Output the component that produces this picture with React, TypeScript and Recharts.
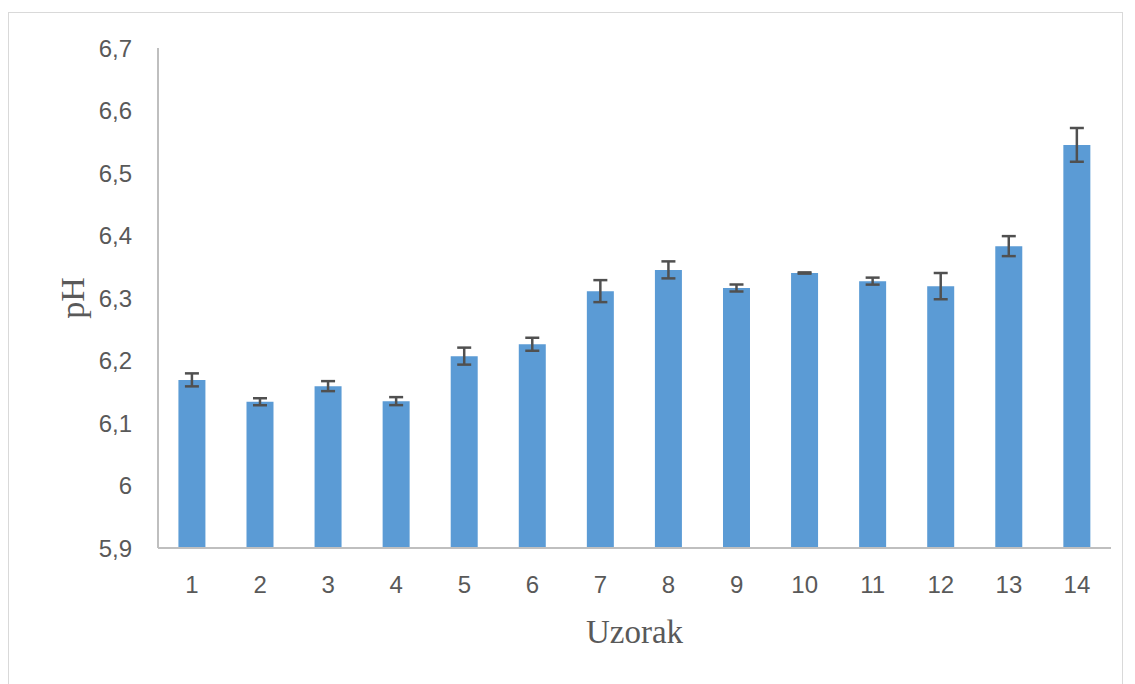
import { BarChart, Bar, XAxis, YAxis, ErrorBar } from 'recharts';

// sample numbers on the x axis
const samples = ['1', '2', '3', '4', '5', '6', '7', '8', '9', '10', '11', '12', '13', '14'];

// mean pH per sample
const phValues = [6.169, 6.134, 6.159, 6.135, 6.207, 6.226, 6.311, 6.345, 6.316, 6.34, 6.327, 6.319, 6.383, 6.545];

// standard deviation per sample
const phErrors = [0.0104, 0.0056, 0.008, 0.0064, 0.0136, 0.0104, 0.0176, 0.0136, 0.0056, 0.001, 0.0056, 0.021, 0.016, 0.027];

const yTicks = [5.9, 6.0, 6.1, 6.2, 6.3, 6.4, 6.5, 6.6, 6.7];

const data = samples.map((s, i) => ({ sample: s, ph: phValues[i], err: phErrors[i] }));

const TEXT = '#595959';
const AXIS = '#bfbfbf';
const tickFont = { fill: TEXT, fontSize: 24, fontFamily: 'Liberation Sans, Arial, sans-serif' };

const formatTick = (v: number) => String(Math.round(v * 10) / 10).replace('.', ',');

const YTitle = (props: any) => {
  const { x, y, height } = props.viewBox;
  const cx = x + 64;
  const cy = y + height / 2;
  return (
    <text
      x={cx}
      y={cy}
      transform={`rotate(-90 ${cx} ${cy})`}
      textAnchor="middle"
      dominantBaseline="central"
      fill={TEXT}
      fontSize={34}
      fontFamily="Liberation Serif, Times New Roman, serif"
    >
      pH
    </text>
  );
};

export default function App() {
  return (
    <div style={{ position: 'relative', width: 1127, height: 676, overflow: 'hidden' }}>
      <div
        style={{
          position: 'absolute',
          left: 0,
          top: 4,
          width: 1115,
          height: 690,
          boxSizing: 'border-box',
          border: '1px solid #d9d9d9',
        }}
      />
      <BarChart
        width={1127}
        height={676}
        data={data}
        margin={{ top: 40, right: 24, bottom: 36, left: 0 }}
        barCategoryGap="30%"
        style={{ position: 'absolute', left: 0, top: 0 }}
      >
        <XAxis
          dataKey="sample"
          height={100}
          tick={tickFont}
          tickLine={false}
          tickSize={0}
          tickMargin={28}
          axisLine={{ stroke: AXIS, strokeWidth: 2 }}
          label={{
            value: 'Uzorak',
            position: 'insideBottom',
            offset: 5,
            fill: TEXT,
            fontSize: 33,
            fontFamily: 'Liberation Serif, Times New Roman, serif',
          }}
        />
        <YAxis
          width={150}
          domain={[5.9, 6.7]}
          ticks={yTicks}
          allowDataOverflow
          tickFormatter={formatTick}
          tick={tickFont}
          tickLine={false}
          tickSize={0}
          tickMargin={26}
          axisLine={{ stroke: AXIS, strokeWidth: 2 }}
          label={<YTitle />}
        />
        <Bar dataKey="ph" fill="#5b9bd5" isAnimationActive={false}>
          <ErrorBar dataKey="err" width={7} stroke="#505050" strokeWidth={2.5} direction="y" />
        </Bar>
      </BarChart>
    </div>
  );
}
